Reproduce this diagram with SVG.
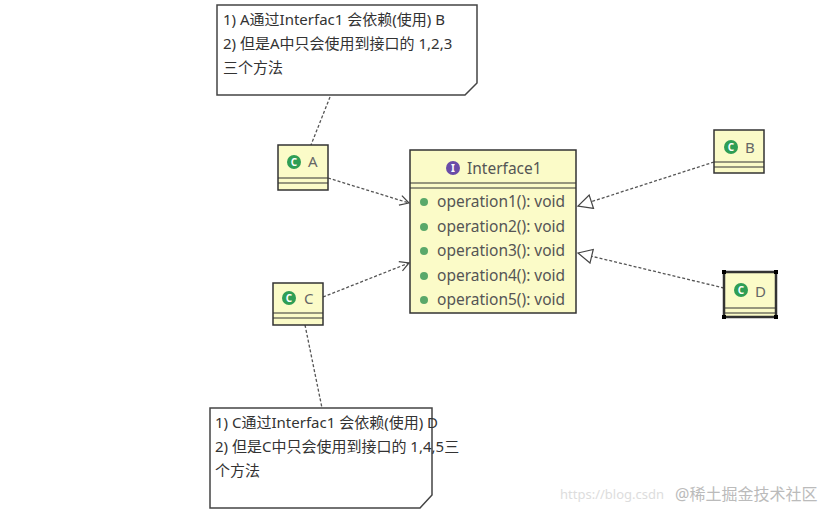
<svg xmlns="http://www.w3.org/2000/svg" width="840" height="511" viewBox="0 0 840 511">
<style>
text{font-family:"Noto Sans","Noto Sans CJK SC",sans-serif;fill:#333}
.note{fill:#fff;stroke:#444;stroke-width:1.5}
.cls{fill:#fbfbc8;stroke:#333;stroke-width:1.5}
.ln{stroke:#333;stroke-width:1.2}
.dash{fill:none;stroke:#555;stroke-width:1.3;stroke-dasharray:3,2}
.nt{font-size:15px}
.op{font-size:15.5px;fill:#555}
.cn{font-size:15px;fill:#666}
.g{fill:#2f9e55}
.dot{fill:#5aa86a}
</style>
<defs>
<marker id="open" markerWidth="12" markerHeight="12" refX="10" refY="6" orient="auto" markerUnits="userSpaceOnUse"><path d="M1,1 L10,6 L1,11" fill="none" stroke="#444" stroke-width="1.2"/></marker>
<marker id="tri" markerWidth="16" markerHeight="16" refX="15" refY="8" orient="auto" markerUnits="userSpaceOnUse"><path d="M1,1 L15,8 L1,15 Z" fill="#fff" stroke="#444" stroke-width="1.2"/></marker>
</defs>
<g id="connectors">
<path class="dash" d="M330,97 L311,145"/>
<path class="dash" d="M328,178 L409,203" marker-end="url(#open)"/>
<path class="dash" d="M323,297 L409,263" marker-end="url(#open)"/>
<path class="dash" d="M714,162 L578,206" marker-end="url(#tri)"/>
<path class="dash" d="M724,288 L578,253" marker-end="url(#tri)"/>
<path class="dash" d="M305,325 L322,408"/>
</g>
<g id="noteA">
<path class="note" d="M217,5 H477 V83 L465,95 H217 Z"/>
<text class="nt" x="223" y="25">1) A通过Interfac1 会依赖(使用) B</text>
<text class="nt" x="223" y="49">2) 但是A中只会使用到接口的 1,2,3</text>
<text class="nt" x="223" y="73">三个方法</text>
</g>
<g id="A">
<rect class="cls" x="278" y="145" width="50" height="45"/>
<line class="ln" x1="278" y1="178" x2="328" y2="178"/><line class="ln" x1="278" y1="183" x2="328" y2="183"/>
<circle class="g" cx="294" cy="162" r="7"/><text x="294" y="166" font-size="10" text-anchor="middle" style="fill:#fff;font-weight:bold">C</text>
<text class="cn" x="308" y="167">A</text>
</g>
<g id="Interface1">
<rect class="cls" x="410" y="150" width="166" height="163"/>
<line class="ln" x1="410" y1="183" x2="576" y2="183"/><line class="ln" x1="410" y1="188" x2="576" y2="188"/>
<circle cx="453" cy="168" r="7" fill="#6a4ca8"/><text x="453" y="172" font-size="10" text-anchor="middle" style="fill:#fff;font-weight:bold">I</text>
<text class="op" x="467" y="174">Interface1</text>
<circle class="dot" cx="424" cy="202" r="4"/><text class="op" x="437" y="207">operation1(): void</text>
<circle class="dot" cx="424" cy="227" r="4"/><text class="op" x="437" y="232">operation2(): void</text>
<circle class="dot" cx="424" cy="251" r="4"/><text class="op" x="437" y="256">operation3(): void</text>
<circle class="dot" cx="424" cy="276" r="4"/><text class="op" x="437" y="281">operation4(): void</text>
<circle class="dot" cx="424" cy="300" r="4"/><text class="op" x="437" y="305">operation5(): void</text>
</g>
<g id="C">
<rect class="cls" x="273" y="283" width="50" height="42"/>
<line class="ln" x1="273" y1="313" x2="323" y2="313"/><line class="ln" x1="273" y1="318" x2="323" y2="318"/>
<circle class="g" cx="289" cy="298" r="7"/><text x="289" y="302" font-size="10" text-anchor="middle" style="fill:#fff;font-weight:bold">C</text>
<text class="cn" x="304" y="304">C</text>
</g>
<g id="B">
<rect class="cls" x="714" y="130" width="50" height="43"/>
<line class="ln" x1="714" y1="162" x2="764" y2="162"/><line class="ln" x1="714" y1="167" x2="764" y2="167"/>
<circle class="g" cx="731" cy="147" r="7"/><text x="731" y="151" font-size="10" text-anchor="middle" style="fill:#fff;font-weight:bold">C</text>
<text class="cn" x="745" y="153">B</text>
</g>
<g id="D">
<rect class="cls" x="724" y="272" width="52" height="45" style="stroke-width:2.5"/>
<line class="ln" x1="724" y1="308" x2="776" y2="308"/><line class="ln" x1="724" y1="313" x2="776" y2="313"/>
<rect x="722" y="270" width="4" height="4" fill="#000"/><rect x="774" y="270" width="4" height="4" fill="#000"/>
<rect x="722" y="315" width="4" height="4" fill="#000"/><rect x="774" y="315" width="4" height="4" fill="#000"/>
<circle class="g" cx="741" cy="290" r="7"/><text x="741" y="294" font-size="10" text-anchor="middle" style="fill:#fff;font-weight:bold">C</text>
<text class="cn" x="755" y="297">D</text>
</g>
<g id="noteC">
<path class="note" d="M210,408 H432 V495 L420,508 H210 Z"/>
<text class="nt" x="215" y="428">1) C通过Interfac1 会依赖(使用) D</text>
<text class="nt" x="215" y="452">2) 但是C中只会使用到接口的 1,4,5三</text>
<text class="nt" x="215" y="476">个方法</text>
</g>
<text x="560" y="499" font-size="13" style="fill:#ddd">https://blog.csdn</text>
<text x="675" y="500" font-size="16" style="fill:#bbb">@稀土掘金技术社区</text>
</svg>
